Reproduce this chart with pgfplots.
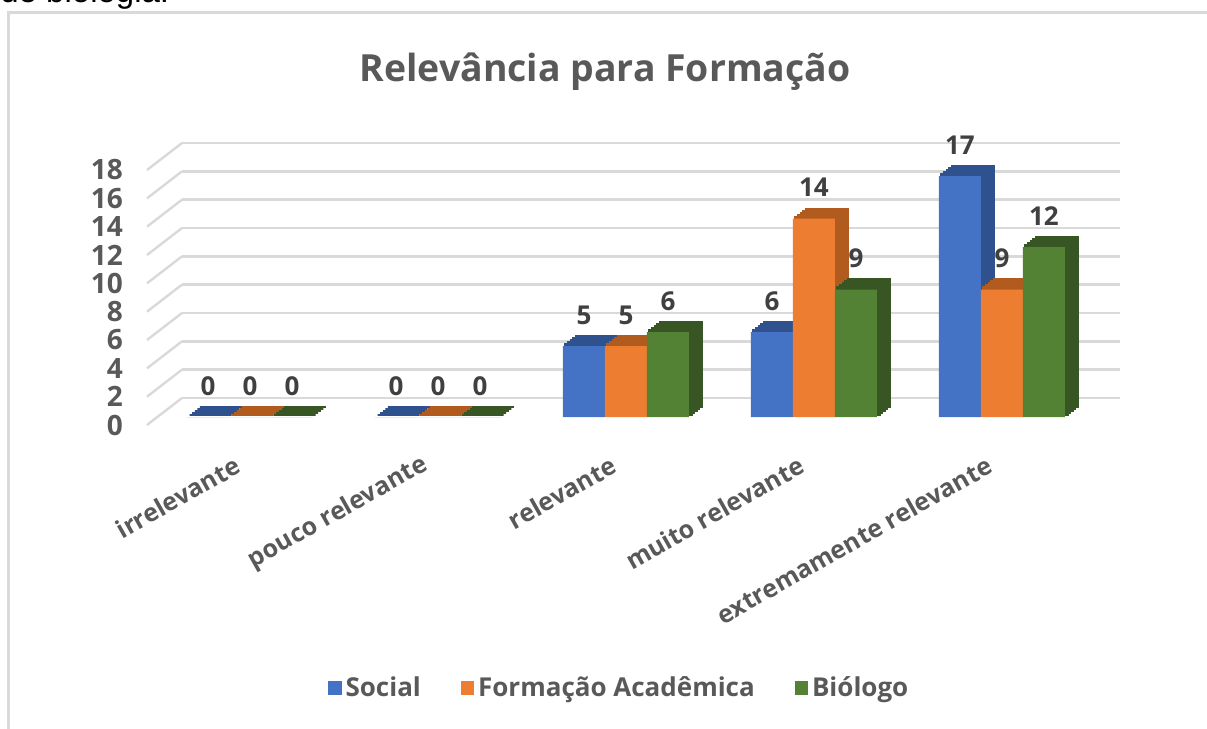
\documentclass[border=0pt]{standalone}
\usepackage{pgfplots}
\pgfplotsset{compat=1.18}
\usepackage{pgfplotstable}
\usepackage{fontspec}
\setmainfont{Open Sans}
\newfontfamily\arialfont{Liberation Sans}
\definecolor{cblue}{HTML}{4472C4}
\definecolor{dkblue}{HTML}{2F528F}
\definecolor{corange}{HTML}{ED7D31}
\definecolor{dkorange}{HTML}{B25B1E}
\definecolor{cgreen}{HTML}{548235}
\definecolor{dkgreen}{HTML}{375623}
\definecolor{gridgray}{HTML}{D9D9D9}
\definecolor{framegray}{HTML}{D9D9D9}
\definecolor{titlegray}{HTML}{595959}
\definecolor{labelgray}{HTML}{404040}

\pgfplotstableread{
x social formacao biologo
0 0 0 0
1 0 0 0
2 5 5 6
3 6 14 9
4 17 9 12
}\datatable

\pgfplotsset{
  shadow/.style n args={3}{forget plot, ybar, bar width=21pt, bar shift=#1,
     fill=#2, draw=#2, line width=1.1pt, xshift=#3*6.5pt, yshift=#3*5pt},
  front/.style n args={2}{ybar, bar width=21pt, bar shift=#1, fill=#2, draw=none,
     nodes near coords,
     every node near coord/.append style={anchor=base, yshift=11pt, xshift=#1,
       font=\bfseries\fontsize{13}{15}\selectfont, text=labelgray}},
}

\begin{document}
\begin{tikzpicture}
\useasboundingbox (0pt,0pt) rectangle (603.5pt,364.5pt);
\draw[framegray, line width=1.5pt] (4.25pt,-10pt) -- (4.25pt,358.25pt) -- (620pt,358.25pt);
\node[anchor=base west, inner sep=0pt, font=\arialfont\fontsize{16.5}{18}\selectfont] at (0pt,363pt) {de biologia.};
\node[anchor=base, inner sep=0pt, font=\bfseries\fontsize{18.7}{22}\selectfont, text=titlegray] at (302.5pt,323.5pt) {Relevância para Formação};

% background grid (back wall)
\begin{axis}[at={(91pt,165.5pt)}, anchor=south west, scale only axis,
  width=469pt, height=127.5pt,
  xmin=0, xmax=1, ymin=0, ymax=18,
  ytick={0,2,...,18}, xtick=\empty,
  ymajorgrids, grid style={gridgray, line width=1.2pt},
  axis line style={draw=none}, major tick length=0pt, clip=false,
  /pgf/number format/assume math mode=true,
  yticklabel style={font=\bfseries\fontsize{14}{16}\selectfont, text=titlegray,
     xshift=-26pt, yshift=-13.5pt}]
\pgfplotsinvokeforeach{0,2,4,6,8,10,12,14,16,18}{
  \draw[gridgray, line width=1.2pt] (axis cs:0,#1) -- ++(-17.5pt,-13.5pt);
}
\end{axis}

% bars
\begin{axis}[at={(78pt,156pt)}, anchor=south west, scale only axis,
  width=470pt, height=127.5pt,
  xmin=-0.5, xmax=4.5, ymin=0, ymax=18,
  ytick=\empty, xtick={0,1,2,3,4},
  xticklabels={irrelevante, pouco relevante, relevante, muito relevante, extremamente relevante},
  xticklabel style={font=\bfseries\fontsize{12.5}{15}\selectfont, text=titlegray,
     xshift=-3pt, yshift=-21.5pt, rotate=29.5, anchor=east},
  axis line style={draw=none}, major tick length=0pt, clip=false,
  /pgf/number format/assume math mode=true,
  legend style={at={(0.494,-1.063)}, anchor=center, draw=none, fill=none,
     legend columns=3, font=\bfseries\fontsize{13}{16}\selectfont, text=titlegray,
     /tikz/every even column/.append style={column sep=18pt}},
  legend image code/.code={\fill[#1] (0pt,-3.3pt) rectangle (6.6pt,3.3pt);}]
\pgfplotsinvokeforeach{0.2,0.4,0.6,0.8,1}{
  \addplot[shadow={-21pt}{dkblue}{#1}] table[x=x,y=social]{\datatable};
}
\addplot[front={-21pt}{cblue}] table[x=x,y=social]{\datatable};
\addlegendentry{Social}
\pgfplotsinvokeforeach{0.2,0.4,0.6,0.8,1}{
  \addplot[shadow={0pt}{dkorange}{#1}] table[x=x,y=formacao]{\datatable};
}
\addplot[front={0pt}{corange}] table[x=x,y=formacao]{\datatable};
\addlegendentry{Formação Acadêmica}
\pgfplotsinvokeforeach{0.2,0.4,0.6,0.8,1}{
  \addplot[shadow={21pt}{dkgreen}{#1}] table[x=x,y=biologo]{\datatable};
}
\addplot[front={21pt}{cgreen}] table[x=x,y=biologo]{\datatable};
\addlegendentry{Biólogo}
\end{axis}
\end{tikzpicture}
\end{document}
